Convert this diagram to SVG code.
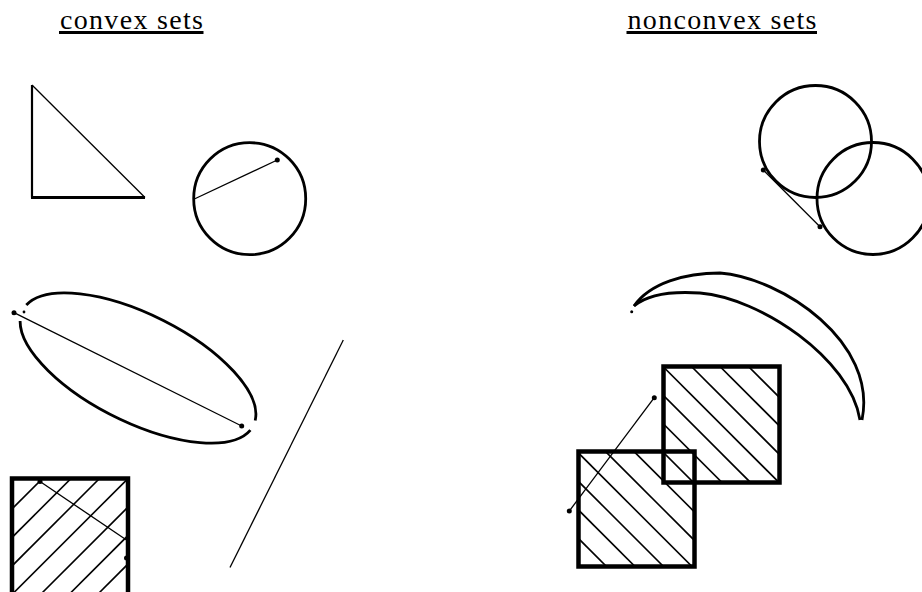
<svg xmlns="http://www.w3.org/2000/svg" width="922" height="592" viewBox="0 0 922 592">
<style>
.title{font-family:"Liberation Serif","DejaVu Serif",serif;font-size:28px;fill:#000}
.ul{stroke:#000;stroke-width:2.8}
.thin{stroke:#000;stroke-width:1.3;fill:none}
.med{stroke:#000;stroke-width:2.8;fill:none}
.thick{stroke:#000;stroke-width:4.5;fill:none}
.hatch{stroke:#000;stroke-width:1.6}
.dot{fill:#000}
</style>
<defs>
<clipPath id="clipC"><rect x="12" y="478.5" width="116" height="116"/></clipPath>
<clipPath id="clipN"><rect x="578.5" y="451.5" width="116" height="115"/><rect x="663.5" y="366.5" width="116" height="116"/></clipPath>
</defs>
<rect width="922" height="592" fill="#fff"/>
<g id="title-convex">
<text class="title" x="60" y="29" textLength="143" lengthAdjust="spacing">convex sets</text>
<line class="ul" x1="59" y1="32.5" x2="203.5" y2="32.5"/>
</g>
<g id="title-nonconvex">
<text class="title" x="627.5" y="29" textLength="189" lengthAdjust="spacing">nonconvex sets</text>
<line class="ul" x1="626.5" y1="32.5" x2="817" y2="32.5"/>
</g>
<g id="triangle">
<line x1="32" y1="85" x2="32" y2="197.5" stroke="#000" stroke-width="2.2"/>
<line x1="31" y1="197.5" x2="145" y2="197.5" stroke="#000" stroke-width="3"/>
<line class="thin" x1="32" y1="85" x2="145" y2="197.5"/>
</g>
<g id="disk">
<circle class="med" cx="249.7" cy="198.7" r="56"/>
<line class="thin" x1="193.3" y1="199.5" x2="277.3" y2="160"/>
<circle class="dot" cx="277.3" cy="160" r="2.5"/>
</g>
<g id="ellipse">
<path class="med" d="M26.3,305 A129 54 26.5 0 1 255.2,420.5"/>
<path class="med" d="M250.4,430.1 A129 54 26.5 0 1 20.1,321.1"/>
<circle class="dot" cx="24" cy="312" r="1.4"/>
<line class="thin" x1="14" y1="312.7" x2="241.7" y2="426"/>
<circle class="dot" cx="14" cy="312.7" r="2.5"/>
<circle class="dot" cx="241.7" cy="426" r="2.5"/>
</g>
<g id="line-set">
<line class="thin" x1="343.3" y1="340" x2="230" y2="567.5"/>
</g>
<g id="square-convex">
<g clip-path="url(#clipC)">
<line class="hatch" x1="0" y1="521" x2="130" y2="391"/>
<line class="hatch" x1="0" y1="549.5" x2="160" y2="389.5"/>
<line class="hatch" x1="0" y1="578" x2="190" y2="388"/>
<line class="hatch" x1="0" y1="606.5" x2="220" y2="386.5"/>
<line class="hatch" x1="0" y1="635" x2="250" y2="385"/>
<line class="hatch" x1="0" y1="663.5" x2="280" y2="383.5"/>
<line class="hatch" x1="0" y1="692" x2="310" y2="382"/>
<line class="hatch" x1="0" y1="720.5" x2="340" y2="380.5"/>
</g>
<rect class="thick" x="12" y="478.5" width="116" height="116" stroke-width="4"/>
<line class="thin" x1="40" y1="481.5" x2="126.5" y2="540" stroke-width="1.6"/>
<circle class="dot" cx="40" cy="481.5" r="2.5"/>
<circle class="dot" cx="126.5" cy="558" r="2.5"/>
</g>
<g id="two-circles">
<circle class="med" cx="815.5" cy="141.5" r="56"/>
<circle class="med" cx="873" cy="198.5" r="56"/>
<line class="thin" x1="763.3" y1="170" x2="820" y2="226.7" stroke-width="1.6"/>
<circle class="dot" cx="763.3" cy="170" r="2.5"/>
<circle class="dot" cx="820" cy="226.7" r="2.5"/>
</g>
<g id="crescent">
<path class="med" d="M634,306 C650,283 685,273 720,273 C782,278 878,342 862,420"/>
<path class="med" d="M634,306 C648,294 670,291 700,293 C760,298 850,358 860,420"/>
<circle class="dot" cx="631.7" cy="311.7" r="1.5"/>
</g>
<g id="two-squares">
<g clip-path="url(#clipN)">
<line class="hatch" x1="540" y1="500" x2="800" y2="760"/>
<line class="hatch" x1="540" y1="471.5" x2="800" y2="731.5"/>
<line class="hatch" x1="540" y1="443" x2="800" y2="703"/>
<line class="hatch" x1="540" y1="414.5" x2="800" y2="674.5"/>
<line class="hatch" x1="540" y1="386" x2="800" y2="646"/>
<line class="hatch" x1="540" y1="357.5" x2="800" y2="617.5"/>
<line class="hatch" x1="540" y1="329" x2="800" y2="589"/>
<line class="hatch" x1="540" y1="300.5" x2="800" y2="560.5"/>
<line class="hatch" x1="540" y1="272" x2="800" y2="532"/>
<line class="hatch" x1="540" y1="243.5" x2="800" y2="503.5"/>
<line class="hatch" x1="540" y1="215" x2="800" y2="475"/>
<line class="hatch" x1="540" y1="186.5" x2="800" y2="446.5"/>
<line class="hatch" x1="540" y1="158" x2="800" y2="418"/>
</g>
<rect class="thick" x="578.5" y="451.5" width="116" height="115"/>
<rect class="thick" x="663.5" y="366.5" width="116" height="116"/>
<line class="thin" x1="569.3" y1="511" x2="654.3" y2="397.7" stroke-width="1.6"/>
<circle class="dot" cx="569.3" cy="511" r="2.5"/>
<circle class="dot" cx="654.3" cy="397.7" r="2.5"/>
</g>
</svg>
